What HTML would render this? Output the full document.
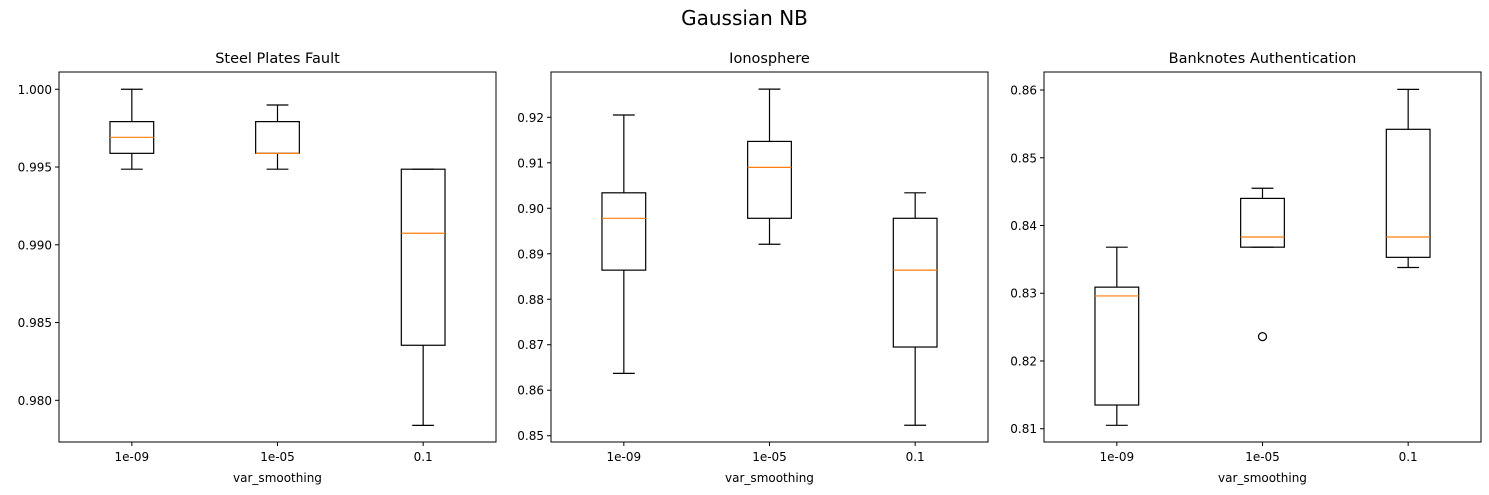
<!DOCTYPE html>
<html><head><meta charset="utf-8"><style>
body{margin:0;background:#fff;}
svg{display:block;font-family:"DejaVu Sans","Liberation Sans",sans-serif;}
</style></head><body>
<svg id="c" width="1489" height="495">
<text x="744.5" y="25" font-size="20" text-anchor="middle">Gaussian NB</text>
</svg>
<script>
const categories = ["1e-09","1e-05","0.1"];
const titles = ["Steel Plates Fault","Ionosphere","Banknotes Authentication"];
// per panel: [min, q1, median, q3, max] for each category
const steelStats = [[0.99486,0.99588,0.99691,0.99792,1.0000],[0.99486,0.99588,0.99588,0.99792,0.99899],[0.97839,0.98354,0.99074,0.99486,0.99486]];
const ionoStats = [[0.8637,0.8864,0.8978,0.9034,0.9205],[0.8921,0.8978,0.9090,0.9147,0.9262],[0.8523,0.8695,0.8864,0.8978,0.9034]];
const bankStats = [[0.8105,0.8135,0.8296,0.8309,0.8368],[0.8368,0.8368,0.8383,0.8440,0.8455],[0.8338,0.8353,0.8383,0.8542,0.8601]];
const bankOutliers = [[],[0.8236],[]];
const steelTicks = [0.980,0.985,0.990,0.995,1.000];
const ionoTicks = [0.85,0.86,0.87,0.88,0.89,0.90,0.91,0.92];
const bankTicks = [0.81,0.82,0.83,0.84,0.85,0.86];
const steelTickLabels = ["0.980","0.985","0.990","0.995","1.000"];
const ionoTickLabels = ["0.85","0.86","0.87","0.88","0.89","0.90","0.91","0.92"];
const bankTickLabels = ["0.81","0.82","0.83","0.84","0.85","0.86"];

const panels = [
 {x0:59,x1:496,ymin:0.97732,ymax:1.00111,stats:steelStats,out:[[],[],[]],ticks:steelTicks,labels:steelTickLabels},
 {x0:551,x1:988,ymin:0.84862,ymax:0.92996,stats:ionoStats,out:[[],[],[]],ticks:ionoTicks,labels:ionoTickLabels},
 {x0:1044,x1:1481,ymin:0.80804,ymax:0.86266,stats:bankStats,out:bankOutliers,ticks:bankTicks,labels:bankTickLabels}
];
const svg=document.getElementById('c');
const NS='http://www.w3.org/2000/svg';
function mk(tag,attrs,parent){const e=document.createElementNS(NS,tag);for(const k in attrs)e.setAttribute(k,attrs[k]);(parent||svg).appendChild(e);return e;}
const yTop=72,yBot=442;
panels.forEach((p,pi)=>{
  const g=mk('g',{});
  
  
  const sy=v=>yBot-(v-p.ymin)/(p.ymax-p.ymin)*(yBot-yTop);
  const w=p.x1-p.x0;
  const sx=i=>p.x0+(i+0.5)/3*w;
  const bw=0.3/3*w;
  const t=mk('text',{x:(p.x0+p.x1)/2,y:63,'font-size':14.5,'text-anchor':'middle'},g);
  t.textContent=titles[pi];
  
  
  p.ticks.forEach((v,i)=>{
    const y=sy(v);
    mk('line',{x1:p.x0-4,x2:p.x0,y1:y,y2:y,stroke:'#000','stroke-width':1},g);
    const tl=mk('text',{x:p.x0-7,y:y+4.5,'font-size':12,'text-anchor':'end'},g);
    tl.textContent=p.labels[i];
    
    
  });
  categories.forEach((c,i)=>{
    const x=sx(i);
    mk('line',{x1:x,x2:x,y1:yBot,y2:yBot+4,stroke:'#000'},g);
    const tl=mk('text',{x:x,y:yBot+19,'font-size':12,'text-anchor':'middle'},g);
    tl.textContent=c;
    
    
    const s=p.stats[i];
    const bg=mk('g',{stroke:'#000','stroke-width':1.2,fill:'none'},g);
    
    
    mk('line',{x1:x,x2:x,y1:sy(s[0]),y2:sy(s[1])},bg);
    mk('line',{x1:x,x2:x,y1:sy(s[3]),y2:sy(s[4])},bg);
    mk('line',{x1:x-bw/4,x2:x+bw/4,y1:sy(s[0]),y2:sy(s[0])},bg);
    mk('line',{x1:x-bw/4,x2:x+bw/4,y1:sy(s[4]),y2:sy(s[4])},bg);
    mk('rect',{x:x-bw/2,y:sy(s[3]),width:bw,height:Math.max(0.5,sy(s[1])-sy(s[3]))},bg);
    mk('line',{x1:x-bw/2,x2:x+bw/2,y1:sy(s[2]),y2:sy(s[2]),stroke:'#ff7f0e'},bg);
    p.out[i].forEach(o=>{
      const ci=mk('circle',{cx:x,cy:sy(o),r:4},bg);
      
      
    });
  });
  const fr=mk('rect',{x:p.x0,y:yTop,width:w,height:yBot-yTop,fill:'none',stroke:'#000','stroke-width':1},g);
  
  
  const xl=mk('text',{x:(p.x0+p.x1)/2,y:482,'font-size':12,'text-anchor':'middle'},g);
  xl.textContent='var_smoothing';
  
  
});
</script>
</body></html>
